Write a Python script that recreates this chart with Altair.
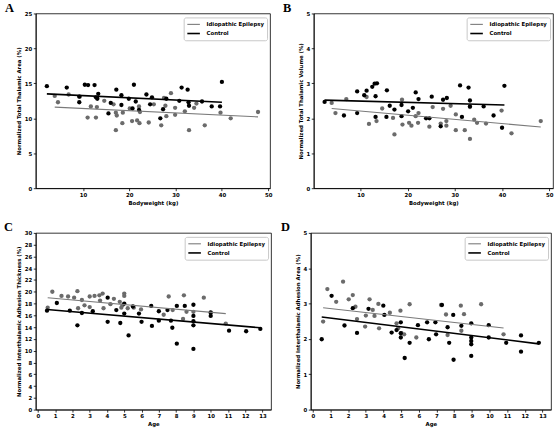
import altair as alt
import pandas as pd

EPI = "Idiopathic Epilepsy"
CTL = "Control"
GRAY_PT = "#6b6b6b"
GRAY_LN = "#7a7a7a"

# ---------------- Panel A: Bodyweight vs total thalamic area ----------------
A_ctl_x = [2.2, 6.5, 9.2, 9.2, 10.4, 11.1, 12.5, 12.8, 13.3, 13.1, 17.2, 15.5, 16.0, 18.3, 18.3,
           19.9, 21.0, 21.4, 20.7, 22.1, 23.7, 24.5, 24.9, 26.7, 27.3, 28.0, 30.8, 31.3, 32.6,
           32.9, 32.8, 35.7, 37.8, 39.6, 40.0]
A_ctl_y = [14.6, 14.4, 13.1, 12.3, 14.8, 14.75, 14.75, 13.0, 13.5, 12.8, 14.1, 10.7, 12.2, 13.3, 11.9,
           12.8, 14.8, 12.4, 11.4, 11.2, 13.4, 12.0, 13.0, 10.0, 11.3, 12.8, 12.5, 14.4, 14.1,
           11.8, 12.3, 12.4, 11.7, 11.7, 15.2]
A_epi_x = [3.9, 4.6, 6.9, 9.3, 11.0, 11.7, 12.8, 13.0, 14.6, 16.6, 17.1, 17.1, 17.3, 18.5, 18.6,
           20.1, 20.6, 21.7, 22.2, 22.1, 22.3, 24.2, 25.3, 26.9, 27.5, 28.0, 27.8, 29.0, 29.9,
           29.9, 32.0, 32.9, 34.0, 34.5, 36.3, 39.7, 41.9, 47.8]
A_epi_y = [13.2, 12.3, 13.4, 13.1, 10.1, 11.7, 10.1, 11.6, 12.5, 12.0, 8.3, 10.8, 10.4, 9.3, 10.8,
           11.4, 9.6, 9.7, 9.3, 11.7, 10.9, 9.4, 12.0, 9.0, 12.9, 10.3, 11.8, 13.6, 11.5,
           10.5, 11.0, 8.3, 11.5, 12.1, 9.0, 10.8, 10.0, 10.9]
A_fit_epi_x = [3.9, 47.8]
A_fit_epi_y = [11.6, 10.2]
A_fit_ctl_x = [2.2, 40.0]
A_fit_ctl_y = [13.5, 12.3]

# ---------------- Panel B: Bodyweight vs total thalamic volume ----------------
B_ctl_x = [2.4, 6.5, 9.3, 9.3, 10.8, 11.3, 12.5, 13.0, 13.5, 13.2, 13.2, 15.6, 15.5, 16.2, 17.2,
           18.7, 18.7, 20.1, 21.1, 21.7, 22.3, 23.9, 24.6, 25.1, 27.0, 27.5, 28.3, 31.1, 31.5,
           32.9, 33.2, 33.2, 36.1, 38.2, 40.0, 40.5]
B_ctl_y = [2.47, 2.08, 2.77, 2.15, 2.66, 2.79, 2.90, 2.99, 3.00, 2.63, 2.04, 2.80, 2.04, 2.36, 2.25,
           2.38, 2.06, 2.20, 2.30, 2.74, 2.55, 2.00, 2.00, 2.62, 1.77, 2.53, 2.58, 2.94, 2.04,
           2.88, 2.51, 2.34, 2.34, 2.08, 1.73, 2.93]
B_epi_x = [3.9, 4.7, 7.0, 11.3, 11.8, 13.4, 14.6, 16.9, 17.2, 18.8, 18.9, 20.3, 20.8, 21.7, 22.2,
           22.3, 24.6, 25.3, 27.0, 27.5, 28.2, 28.2, 29.1, 30.2, 30.2, 32.1, 33.2, 33.2, 34.1,
           34.7, 36.6, 39.9, 42.0, 48.2]
B_epi_y = [2.44, 2.15, 2.55, 2.61, 1.84, 1.92, 2.28, 2.01, 1.54, 2.53, 1.82, 1.87, 1.79, 2.06, 1.87,
           2.15, 1.76, 2.32, 1.85, 2.27, 1.79, 1.92, 2.36, 2.11, 1.66, 1.66, 1.41, 2.32, 1.96,
           1.87, 1.85, 2.22, 1.57, 1.92]
B_fit_epi_x = [3.9, 48.2]
B_fit_epi_y = [2.28, 1.75]
B_fit_ctl_x = [2.4, 40.5]
B_fit_ctl_y = [2.52, 2.38]

# ---------------- Panel C: Age vs interthalamic adhesion thickness ----------------
C_ctl_x = [0.53, 1.1, 1.85, 2.29, 2.55, 3.18, 4.04, 4.04, 4.54, 4.77, 5.0, 5.0, 5.25, 5.5, 5.85,
           6.0, 6.56, 6.6, 7.0, 7.0, 7.5, 7.7, 7.78, 8.04, 8.04, 8.5, 9.0, 9.0, 9.0, 9.0, 9.0,
           10.0, 10.0, 11.06, 12.05, 12.87]
C_ctl_y = [16.8, 18.1, 16.8, 14.3, 16.4, 16.7, 19.0, 14.9, 16.9, 14.7, 18.0, 16.3, 12.6, 17.5, 16.3,
           14.9, 17.6, 14.2, 15.1, 16.7, 16.9, 15.1, 13.9, 17.6, 11.2, 17.6, 17.8, 15.9, 15.0, 14.3, 10.3,
           16.5, 15.9, 13.4, 13.3, 13.7]
C_epi_x = [0.57, 0.84, 1.37, 1.75, 2.1, 2.29, 2.33, 2.55, 2.7, 3.0, 3.28, 3.56, 3.75, 3.0, 3.6,
           3.8, 4.4, 4.2, 4.74, 4.9, 5.0, 5.0, 4.83, 5.2, 5.55, 5.97, 7.28, 7.57, 7.8, 8.4, 8.45,
           8.6, 9.0, 9.6, 10.0, 10.87]
C_epi_y = [17.3, 20.0, 19.3, 19.2, 19.0, 20.1, 17.2, 18.6, 17.7, 19.2, 19.3, 19.4, 19.7, 17.4, 18.5,
           17.2, 18.8, 17.9, 18.3, 17.7, 19.7, 19.3, 17.3, 17.2, 17.3, 17.0, 16.1, 19.2, 16.9, 15.4, 19.4,
           16.6, 16.6, 19.0, 16.4, 14.6]
C_fit_epi_x = [0.57, 10.87]
C_fit_epi_y = [19.0, 16.3]
C_fit_ctl_x = [0.53, 12.87]
C_fit_ctl_y = [17.0, 13.9]

# ---------------- Panel D: Age vs interthalamic adhesion area ----------------
D_ctl_x = [0.50, 1.06, 1.79, 2.26, 2.50, 3.15, 3.99, 4.05, 4.46, 4.74, 4.98, 4.98, 4.98, 5.20, 5.48,
           5.95, 6.47, 6.57, 6.94, 6.98, 7.31, 7.63, 7.72, 7.95, 7.97, 8.41, 8.97, 8.97, 8.97, 8.97,
           8.97, 9.96, 9.96, 10.95, 11.79, 11.79, 12.80]
D_ctl_y = [1.99, 3.22, 2.38, 2.87, 2.17, 2.85, 2.94, 2.68, 2.18, 2.25, 2.47, 2.16, 2.04, 1.46, 1.89,
           2.39, 2.47, 1.99, 2.47, 2.13, 2.96, 2.33, 1.89, 2.68, 1.41, 2.37, 2.44, 2.04, 1.94, 1.85,
           1.52, 2.39, 2.04, 1.89, 2.10, 1.64, 1.89]
D_epi_x = [0.58, 0.82, 1.32, 1.71, 2.03, 2.26, 2.41, 2.50, 2.96, 3.00, 3.21, 3.39, 3.49, 3.71, 3.75,
           4.36, 4.74, 4.83, 4.96, 5.02, 5.17, 5.48, 5.86, 7.26, 7.54, 7.63, 8.38, 8.41, 8.56, 9.53,
           10.80]
D_epi_y = [2.49, 3.41, 3.05, 3.62, 3.12, 3.24, 2.91, 2.56, 2.35, 2.66, 3.12, 2.82, 2.65, 2.99, 2.30,
           2.74, 2.44, 2.30, 2.80, 2.16, 2.13, 2.98, 2.04, 2.96, 2.69, 2.11, 2.94, 2.23, 2.70, 2.98,
           2.13]
D_fit_epi_x = [0.58, 10.80]
D_fit_epi_y = [2.88, 2.31]
D_fit_ctl_x = [0.50, 12.80]
D_fit_ctl_y = [2.62, 1.86]

BW_TICKS = [10, 20, 30, 40, 50]
AGE_TICKS = list(range(0, 14))


def panel(letter, ex, ey, cx, cy, fex, fey, fcx, fcy, xdom, xvals, ydom, yvals,
          xtitle, ytitle, w, h, lx):
    pts_e = pd.DataFrame({"x": ex, "y": ey})
    pts_c = pd.DataFrame({"x": cx, "y": cy})
    fit = pd.DataFrame({"x": fex + fcx, "y": fey + fcy,
                        "grp": [EPI] * len(fex) + [CTL] * len(fcx)})
    xs = alt.Scale(domain=xdom, nice=False, zero=False)
    ys = alt.Scale(domain=ydom, nice=False, zero=False)
    xa = alt.Axis(values=xvals, title=xtitle, format="d", labelOverlap=False,
                  labelFlush=False, tickCount=len(xvals))
    ya = alt.Axis(values=yvals, title=ytitle, format="d", labelOverlap=False,
                  labelFlush=False, tickCount=len(yvals))
    X = alt.X("x:Q", scale=xs, axis=xa)
    Y = alt.Y("y:Q", scale=ys, axis=ya)
    pe = alt.Chart(pts_e).mark_circle(size=19, opacity=1, color=GRAY_PT).encode(x=X, y=Y)
    pc = alt.Chart(pts_c).mark_circle(size=19, opacity=1, color="#000000").encode(x=X, y=Y)
    ln = alt.Chart(fit).mark_line().encode(
        x=X,
        y=Y,
        color=alt.Color("grp:N",
                        scale=alt.Scale(domain=[EPI, CTL], range=[GRAY_LN, "#000000"]),
                        legend=alt.Legend(title=None, orient="top-right", offset=3.5,
                                          padding=3, symbolType="M-2,0H2", symbolSize=40,
                                          symbolStrokeWidth=1.5, symbolOffset=3,
                                          labelFont="DejaVu Sans", labelFontSize=5.4,
                                          labelFontWeight="bold", labelColor="black",
                                          labelOffset=9, rowPadding=1.2,
                                          strokeColor="#c8c8c8", fillColor="white",
                                          cornerRadius=2)),
        strokeWidth=alt.StrokeWidth("grp:N",
                                    scale=alt.Scale(domain=[EPI, CTL], range=[1.1, 1.6]),
                                    legend=None),
    )
    lbl = alt.Chart(pd.DataFrame({"lbl": [letter]})).mark_text(
        font="Liberation Serif", fontSize=12.5, fontWeight="bold", align="left",
        baseline="alphabetic", color="black").encode(
        x=alt.value(lx), y=alt.value(-1.5), text="lbl:N")
    return alt.layer(pe, pc, ln, lbl).properties(width=w, height=h)


pA = panel("A", A_epi_x, A_epi_y, A_ctl_x, A_ctl_y, A_fit_epi_x, A_fit_epi_y,
           A_fit_ctl_x, A_fit_ctl_y, [-0.2, 50.4], BW_TICKS, [0, 25], [0, 5, 10, 15, 20, 25],
           "Bodyweight (kg)", "Normalized Total Thalamic Area (%)", 236, 176, -31)
pB = panel("B", B_epi_x, B_epi_y, B_ctl_x, B_ctl_y, B_fit_epi_x, B_fit_epi_y,
           B_fit_ctl_x, B_fit_ctl_y, [0.1, 50.8], BW_TICKS, [0, 5], [0, 1, 2, 3, 4, 5],
           "Bodyweight (kg)", "Normalized Total Thalamic Volume (%)", 241, 176, -31)
pC = panel("C", C_epi_x, C_epi_y, C_ctl_x, C_ctl_y, C_fit_epi_x, C_fit_epi_y,
           C_fit_ctl_x, C_fit_ctl_y, [-0.12, 13.49], AGE_TICKS, [0, 30], list(range(0, 31, 2)),
           "Age", "Normalized Interthalamic Adhesion Thickness (%)", 237, 178, -32)
pD = panel("D", D_epi_x, D_epi_y, D_ctl_x, D_ctl_y, D_fit_epi_x, D_fit_epi_y,
           D_fit_ctl_x, D_fit_ctl_y, [-0.12, 13.49], AGE_TICKS, [0, 5], [0, 1, 2, 3, 4, 5],
           "Age", "Normalized Interthalamic Adhesion Area (%)", 242, 178, -30)

top = alt.hconcat(pA, pB, spacing=9).resolve_scale(color="independent", strokeWidth="independent")
bottom = alt.hconcat(pC, pD, spacing=8).resolve_scale(color="independent", strokeWidth="independent")

chart = alt.vconcat(top, bottom, spacing=14).resolve_scale(
    color="independent", strokeWidth="independent"
).properties(
    padding={"left": 3, "top": 0, "right": 2, "bottom": 2},
    background="white",
).configure_view(
    stroke="black", strokeWidth=0.8
).configure_axis(
    grid=False, domainColor="black", domainWidth=0.8, tickColor="black", tickWidth=0.8,
    tickSize=2.5, labelFont="DejaVu Sans", labelFontSize=5.4, labelFontWeight="bold",
    labelColor="black", titleFont="DejaVu Sans", titleFontSize=5.4, titleFontWeight="bold",
    titleColor="black", labelPadding=1.5, titlePadding=3, labelOverlap=False,
)

chart.save("out.html", embed_options={"renderer": "svg", "actions": False})
